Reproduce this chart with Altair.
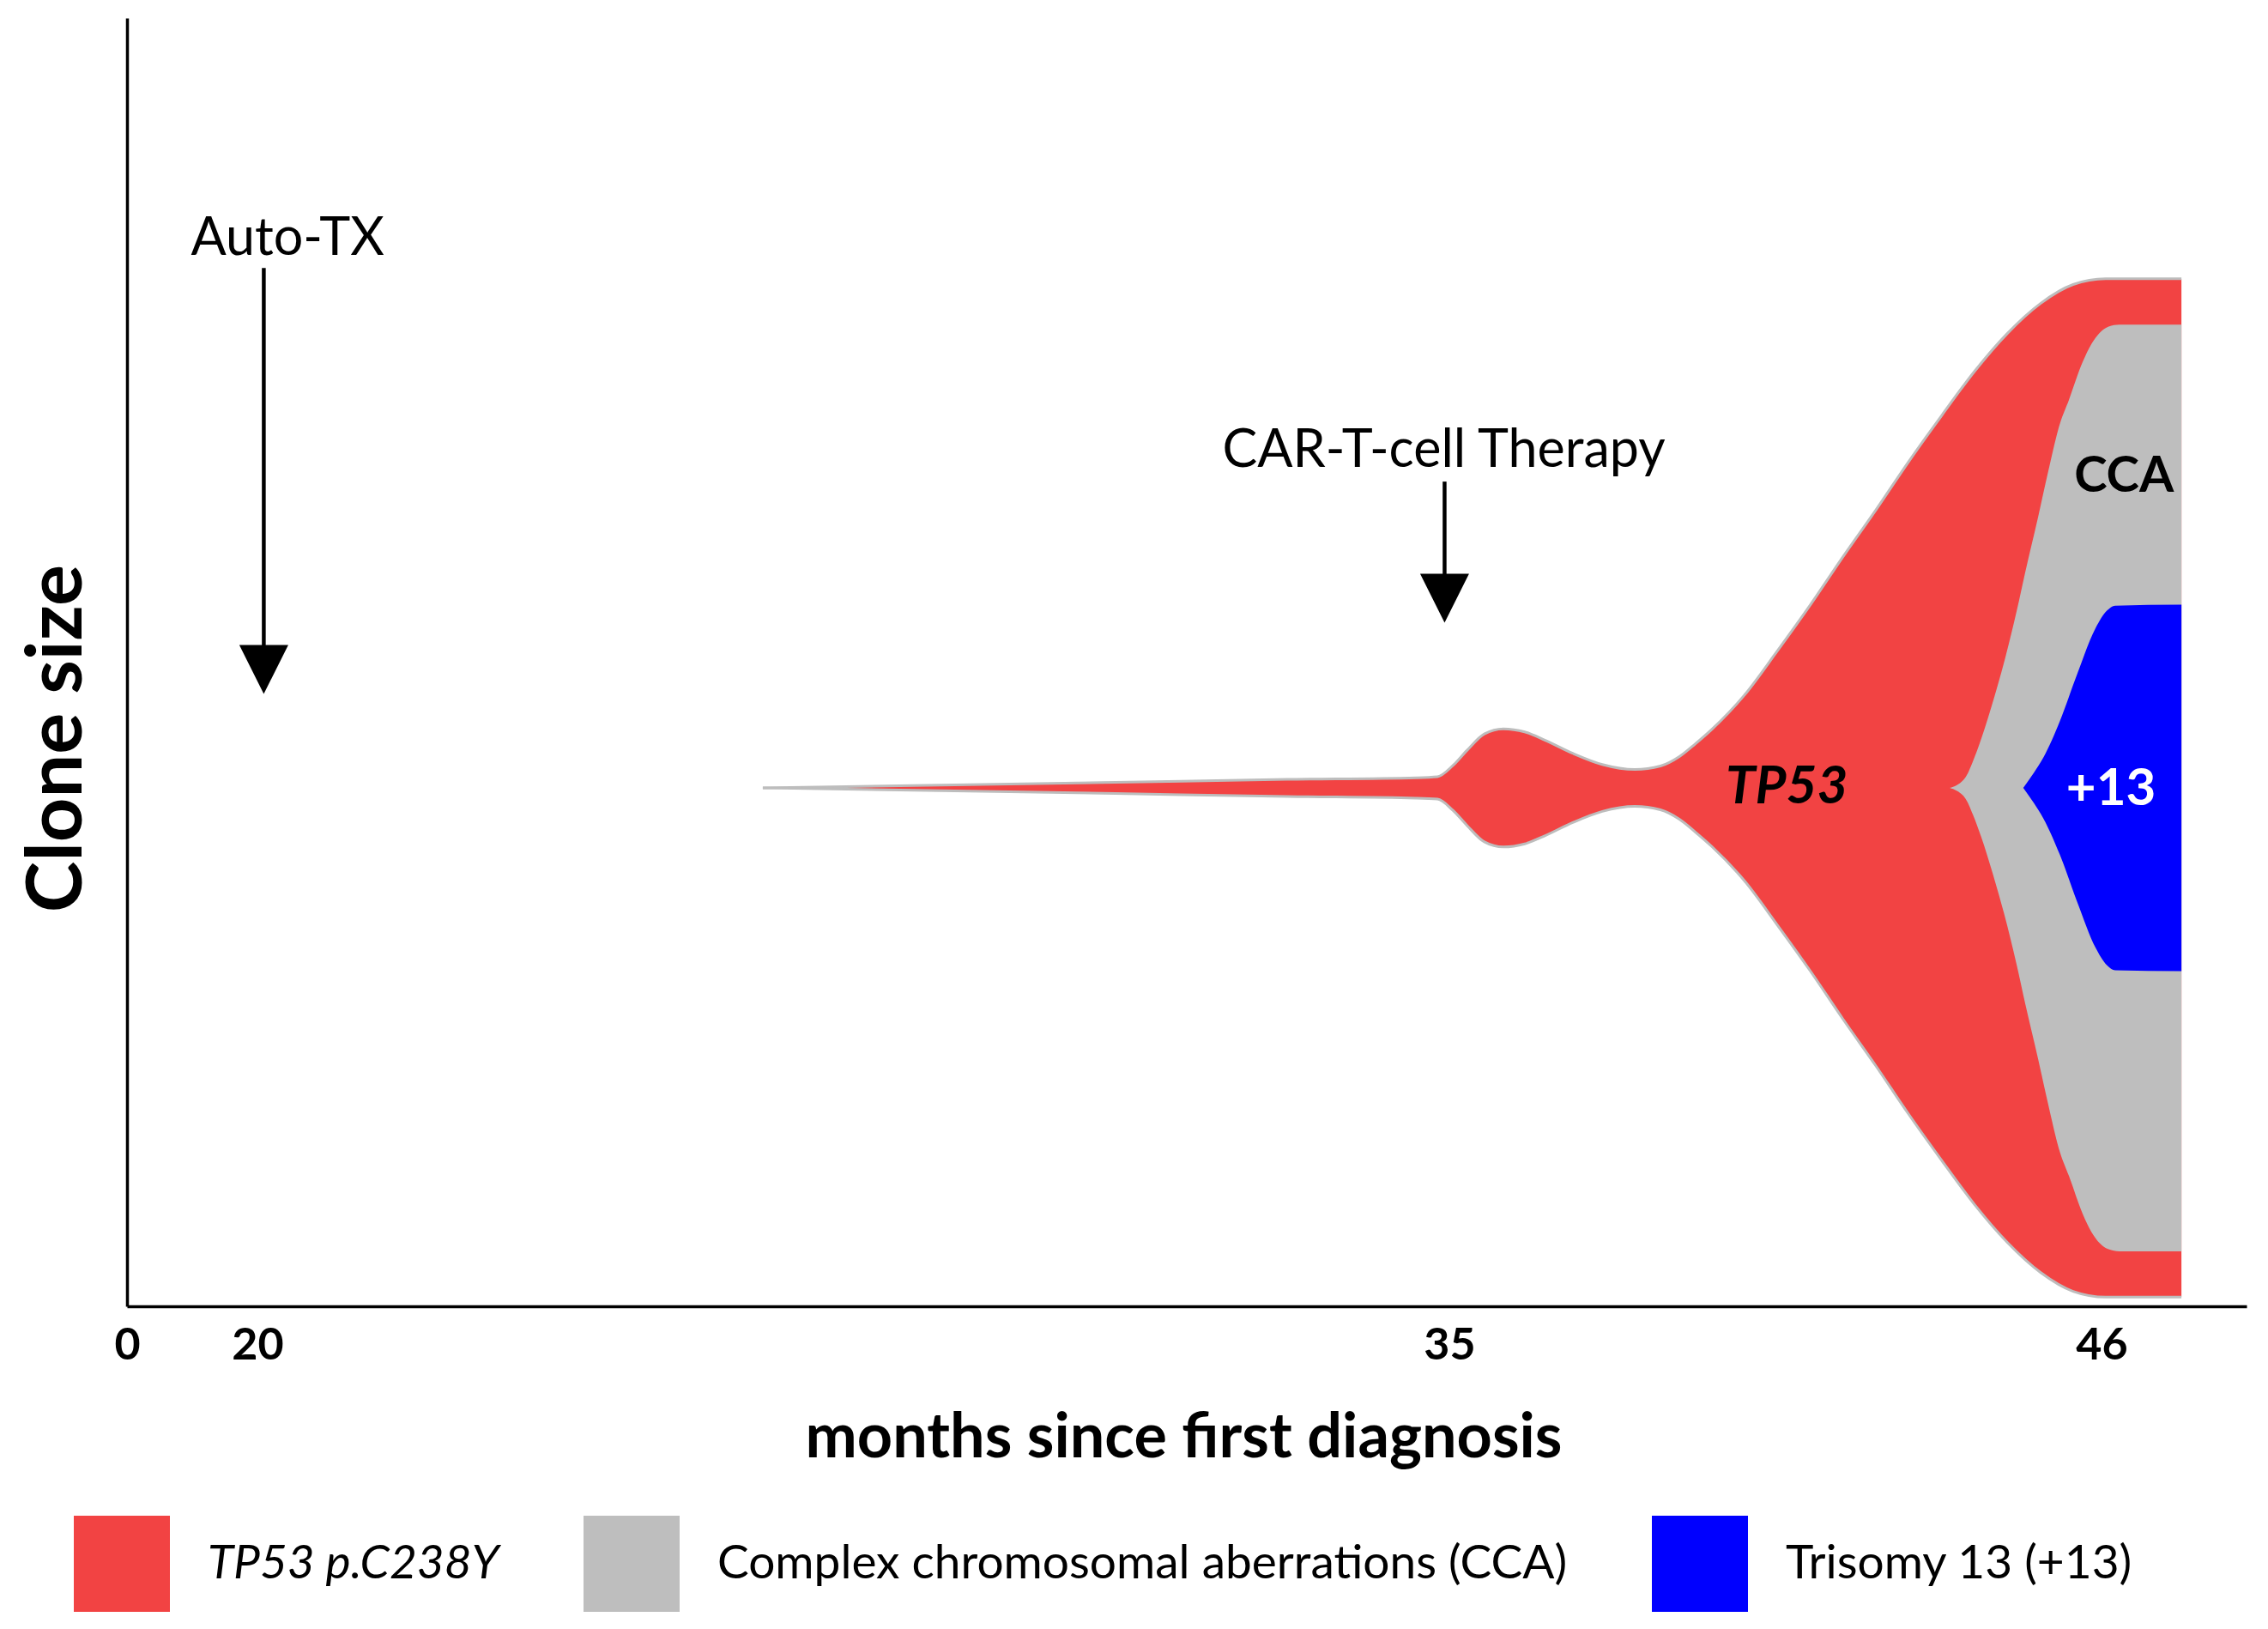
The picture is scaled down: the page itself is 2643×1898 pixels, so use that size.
import altair as alt
import pandas as pd

# ---------------- data ----------------
# x: months since first diagnosis, y: half clone size (% of final size, symmetric around 0)
tp53_months = [26.36, 28.43, 30.80, 32.96, 34.58, 34.85, 35.06, 35.30, 35.59, 35.91, 36.27,
               36.61, 37.08, 37.58, 38.13, 38.56, 38.88, 39.15, 39.43, 39.98, 40.53,
               41.09, 41.64, 42.19, 42.74, 43.31, 43.86, 44.41, 44.97, 45.52, 46.07, 47.35]
tp53_half = [0.0, 0.25, 0.55, 0.84, 1.0, 1.1, 2.2, 3.7, 5.3, 5.8, 5.5,
             4.7, 3.4, 2.3, 1.81, 2.15, 3.08, 4.34, 5.77, 9.14, 13.44,
             17.99, 22.71, 27.26, 31.98, 36.62, 40.92, 44.62, 47.57, 49.43, 50.0, 50.0]

cca_months = [43.44, 43.70, 43.83, 43.97, 44.19, 44.35, 44.57, 44.71, 44.93, 45.09,
              45.30, 45.45, 45.68, 45.83, 45.97, 46.12, 46.30, 47.35]
cca_half = [0.0, 1.0, 2.6, 4.8, 8.9, 12.2, 17.4, 21.1, 26.6, 30.8,
            35.8, 38.1, 41.8, 43.6, 44.7, 45.3, 45.5, 45.5]

tri_months = [44.68, 44.86, 45.02, 45.30, 45.59, 45.90, 46.09, 46.23, 47.35]
tri_half = [0.0, 1.5, 3.0, 6.6, 11.2, 15.7, 17.4, 17.9, 18.0]

clone_names = ["TP53 p.C238Y", "Complex chromosomal aberrations (CCA)", "Trisomy 13 (+13)"]
clone_colors = ["#F24343", "#BEBEBE", "#0000FF"]

tick_months = [0, 20, 35, 46]
axis_breaks = [0, 20, 35, 46, 48.45]          # piecewise (non-uniform) month axis
axis_break_pos = [0, 152, 1541, 2301, 2470]
y_domain = [-50.9, 75.6]

event_names = ["Auto-TX", "CAR-T-cell Therapy"]
event_months = [20.08, 34.94]
event_label_months = [20.38, 34.93]
event_label_y = [52.3, 31.5]
arrow_top = [51.05, 30.08]
arrow_bottom = [13.98, 20.98]
arrow_head = [11.63, 18.62]

inner_labels = ["TP53", "CCA", "+13"]
inner_label_months = [40.69, 46.38, 46.16]
inner_label_y = [-1.5, 29.1, -1.7]

# ---------------- tables ----------------
def band(months, half, name):
    return pd.DataFrame({"month": months, "upper": half,
                         "lower": [-h for h in half], "clone": name})

tp53_df = band(tp53_months, tp53_half, clone_names[0])
cca_df = band(cca_months, cca_half, clone_names[1])
tri_df = band(tri_months, tri_half, clone_names[2])

outline_df = pd.concat([
    pd.DataFrame({"month": tp53_months, "edge": tp53_half, "side": "top"}),
    pd.DataFrame({"month": tp53_months, "edge": [-h for h in tp53_half], "side": "bottom"}),
])

events_df = pd.DataFrame({"event": event_names, "month": event_months,
                          "label_month": event_label_months, "label_y": event_label_y,
                          "top": arrow_top, "bottom": arrow_bottom, "head": arrow_head})
inner_df = pd.DataFrame({"text": inner_labels, "month": inner_label_months, "y": inner_label_y})

FONT = "Lato"

x_scale = alt.Scale(domain=axis_breaks, range=axis_break_pos, nice=False)
y_scale = alt.Scale(domain=y_domain, nice=False, zero=False)

x_axis = alt.Axis(values=tick_months, format="d", title="months since first diagnosis",
                  ticks=False, tickSize=0, grid=False, domainColor="black", domainWidth=3.5,
                  labelFont=FONT, labelFontSize=52, labelFontWeight="bold", labelColor="black",
                  labelPadding=20, labelFlush=False, labelOverlap=False,
                  titleFont=FONT, titleFontSize=72, titleFontWeight="bold", titleColor="black",
                  titleX=1231, titleY=175, titleAlign="center", titleBaseline="alphabetic")
y_axis = alt.Axis(title="Clone size", labels=False, ticks=False, grid=False,
                  domainColor="black", domainWidth=3.5,
                  titleFont=FONT, titleFontSize=90, titleFontWeight="bold", titleColor="black",
                  titleAngle=270, titleX=-54, titleY=839, titleAlign="center",
                  titleBaseline="alphabetic")


def X(field):
    return alt.X(f"{field}:Q", scale=x_scale, axis=x_axis)


def Y(field):
    return alt.Y(f"{field}:Q", scale=y_scale, axis=y_axis)


color = alt.Color(
    "clone:N",
    scale=alt.Scale(domain=clone_names, range=clone_colors),
    legend=alt.Legend(title=None, orient="none", legendX=-62, legendY=1745,
                      direction="horizontal", symbolType="square", symbolSize=12544,
                      symbolStrokeWidth=0, symbolOpacity=1,
                      labelFont=FONT, labelFontSize=55, labelColor="black",
                      labelOffset=44, labelLimit=2000, columnPadding=98,
                      labelFontStyle=alt.ExprRef(
                          "datum.value === 'TP53 p.C238Y' ? 'italic' : 'normal'")),
)

tp53_area = alt.Chart(tp53_df).mark_area(interpolate="monotone", opacity=1).encode(
    x=X("month"), y=Y("upper"), y2="lower", color=color)
outline = alt.Chart(outline_df).mark_line(interpolate="monotone", color="#BDBDBD",
                                          strokeWidth=3).encode(
    x=X("month"), y=Y("edge"), detail="side:N")
cca_area = alt.Chart(cca_df).mark_area(interpolate="monotone", opacity=1).encode(
    x=X("month"), y=Y("upper"), y2="lower", color=color)
tri_area = alt.Chart(tri_df).mark_area(interpolate="monotone", opacity=1).encode(
    x=X("month"), y=Y("upper"), y2="lower", color=color)

shafts = alt.Chart(events_df).mark_rule(color="black", strokeWidth=4.5).encode(
    x=X("month"), y=Y("top"), y2="bottom")
heads = alt.Chart(events_df).mark_point(shape="M-1,-1L1,-1L0,1Z", filled=True, size=3249,
                                        color="black", opacity=1, strokeWidth=0).encode(
    x=X("month"), y=Y("head"))
event_text = alt.Chart(events_df).mark_text(font=FONT, fontSize=61, color="black",
                                            align="center", baseline="alphabetic").encode(
    x=X("label_month"), y=Y("label_y"), text="event:N")

tp53_text = alt.Chart(inner_df[inner_df.text == "TP53"]).mark_text(
    font=FONT, fontSize=62, fontWeight="bold", fontStyle="italic", color="black",
    align="center", baseline="alphabetic").encode(x=X("month"), y=Y("y"), text="text:N")
cca_text = alt.Chart(inner_df[inner_df.text == "CCA"]).mark_text(
    font=FONT, fontSize=58, fontWeight="bold", color="black",
    align="center", baseline="alphabetic").encode(x=X("month"), y=Y("y"), text="text:N")
tri_text = alt.Chart(inner_df[inner_df.text == "+13"]).mark_text(
    font=FONT, fontSize=60, fontWeight="bold", color="white",
    align="center", baseline="alphabetic").encode(x=X("month"), y=Y("y"), text="text:N")

chart = alt.layer(
    tp53_area, outline, cca_area, tri_area, shafts, heads, event_text,
    tp53_text, cca_text, tri_text,
).properties(
    width=2470, height=1501,
    padding={"left": 140, "top": 13, "right": 15, "bottom": 360},
    autosize=alt.AutoSizeParams(type="none"),
    background="white",
).configure_view(stroke=None)

chart.save("out.html", embed_options={"renderer": "svg", "actions": False})
